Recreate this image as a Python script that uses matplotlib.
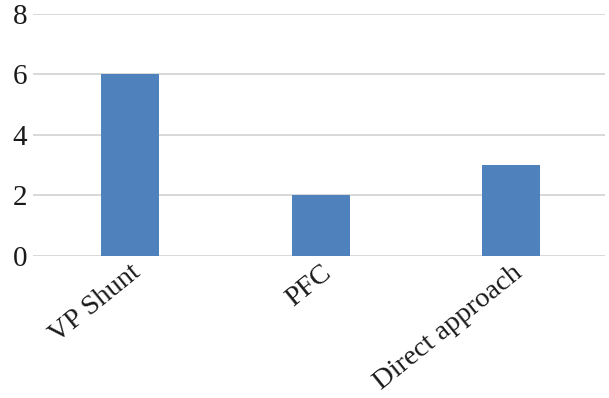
import matplotlib.pyplot as plt

categories = ['VP Shunt', 'PFC', 'Direct approach']
values = [6, 2, 3]
yticks = [0, 2, 4, 6, 8]

plt.rcParams['font.family'] = ['Liberation Serif', 'DejaVu Serif']

fig = plt.figure(figsize=(6.09, 3.98), dpi=100)
ax = fig.add_axes([0.054, 0.357, 0.939, 0.608])

x = range(len(categories))
ax.bar(x, values, width=0.305, color='#4F81BD', zorder=3)

ax.set_xlim(-0.51, 2.49)
ax.set_ylim(0, 8)
ax.set_yticks(yticks)
ax.grid(axis='y', color='#d6d6d6', linewidth=1.3, zorder=0)
ax.set_xticks(list(x))
ax.set_xticklabels(categories, rotation=39, ha='right', rotation_mode='anchor')
ax.tick_params(axis='both', length=0, colors='#1a1a1a')
ax.tick_params(axis='x', pad=3, labelsize=20.5)
ax.tick_params(axis='y', pad=4, labelsize=21)
for s in ax.spines.values():
    s.set_visible(False)

plt.savefig('out.png', dpi=100)
